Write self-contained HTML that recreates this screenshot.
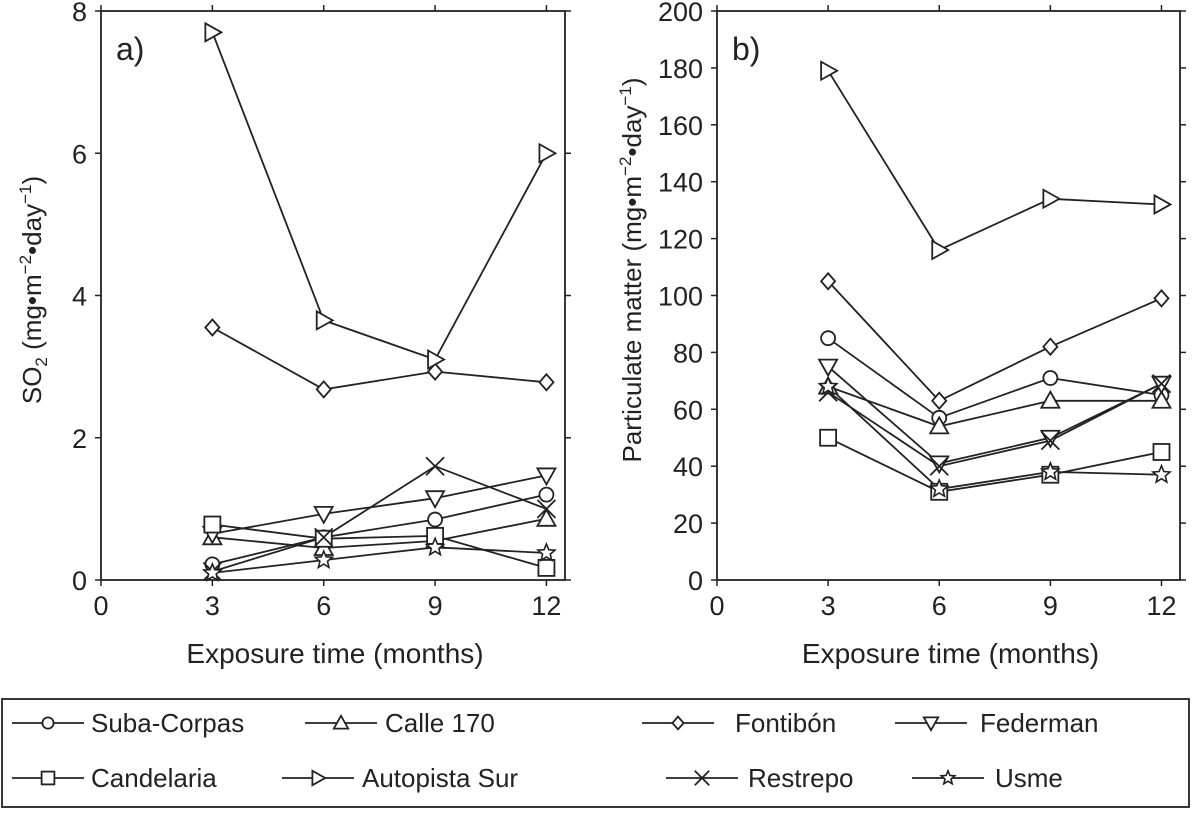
<!DOCTYPE html>
<html><head><meta charset="utf-8"><style>
body{margin:0;background:#fff;}
svg text{font-family:"Liberation Sans",Arial,sans-serif;fill:#222;}
</style></head><body>
<svg id="chart" width="1196" height="810" viewBox="0 0 1196 810" xmlns="http://www.w3.org/2000/svg">
<g id="panels"></g>
<g id="legend"></g>
</svg>
<script>
const months = [3, 6, 9, 12];
const seriesNames = ["Suba-Corpas","Calle 170","Fontibón","Federman","Candelaria","Autopista Sur","Restrepo","Usme"];
const markers = ["circle","triangle","diamond","tridown","square","triright","cross","star"];
const so2Suba = [0.22, 0.6, 0.85, 1.2];
const so2Calle = [0.6, 0.45, 0.55, 0.86];
const so2Fontibon = [3.55, 2.68, 2.93, 2.78];
const so2Federman = [0.65, 0.93, 1.15, 1.47];
const so2Candelaria = [0.78, 0.58, 0.62, 0.17];
const so2Autopista = [7.7, 3.65, 3.1, 6.0];
const so2Restrepo = [0.12, 0.6, 1.6, 1.0];
const so2Usme = [0.1, 0.28, 0.46, 0.38];
const pmSuba = [85, 57, 71, 65];
const pmCalle = [68, 54, 63, 63];
const pmFontibon = [105, 63, 82, 99];
const pmFederman = [75, 41, 50, 69];
const pmCandelaria = [50, 31, 37, 45];
const pmAutopista = [179, 116, 134, 132];
const pmRestrepo = [66, 40, 49, 69];
const pmUsme = [68, 32, 38, 37];
const xTicks = [0, 3, 6, 9, 12];
const so2Ticks = [0, 2, 4, 6, 8];
const pmTicks = [0, 20, 40, 60, 80, 100, 120, 140, 160, 180, 200];

const NS = "http://www.w3.org/2000/svg";
function el(tag, attrs, parent){const e=document.createElementNS(NS,tag);for(const k in attrs)e.setAttribute(k,attrs[k]);parent.appendChild(e);return e;}
const STROKE = {stroke:"#222","stroke-width":1.8,fill:"none"};

function drawMarker(type, cx, cy, g, k){
  k=k||1; let e;
  const A={fill:"#fff",stroke:"#222","stroke-width":1.8};
  if(type==="circle") e=el("circle",{cx,cy,r:7*k,...A},g);
  else if(type==="square") e=el("rect",{x:cx-8*k,y:cy-8*k,width:16*k,height:16*k,...A},g);
  else if(type==="triangle") e=el("polygon",{points:`${cx},${cy-9*k} ${cx-9*k},${cy+7*k} ${cx+9*k},${cy+7*k}`,...A},g);
  else if(type==="tridown") e=el("polygon",{points:`${cx},${cy+9*k} ${cx-9*k},${cy-7*k} ${cx+9*k},${cy-7*k}`,...A},g);
  else if(type==="triright") e=el("polygon",{points:`${cx+9*k},${cy} ${cx-7*k},${cy-9*k} ${cx-7*k},${cy+9*k}`,...A},g);
  else if(type==="diamond") e=el("polygon",{points:`${cx},${cy-8*k} ${cx+7*k},${cy} ${cx},${cy+8*k} ${cx-7*k},${cy}`,...A},g);
  else if(type==="cross") e=el("path",{d:`M${cx-9*k},${cy-9*k}L${cx+9*k},${cy+9*k}M${cx-9*k},${cy+9*k}L${cx+9*k},${cy-9*k}`,stroke:"#222","stroke-width":1.8},g);
  else if(type==="star"){let p=[];for(let i=0;i<10;i++){const r=(i%2?4:9)*k;const a=-Math.PI/2+i*Math.PI/5;p.push((cx+r*Math.cos(a)).toFixed(1)+","+(cy+r*Math.sin(a)).toFixed(1));}
    e=el("polygon",{points:p.join(" "),fill:"#fff",stroke:"#222","stroke-width":1.6},g);}
  return e;
}

function panel(cfg){
  const g=el("g",{},document.getElementById("panels"));
  
  
  const L=cfg.left, R=cfg.right, T=11, B=580;
  const xs=v=>L+(v/12.5)*(R-L);
  const ys=v=>B-(v/cfg.ymax)*(B-T);
  const frame=el("rect",{x:L,y:T,width:R-L,height:B-T,...STROKE},g);
  
  
  xTicks.forEach(t=>{
    const x=xs(t);
    el("line",{x1:x,y1:B,x2:x,y2:B+6,stroke:"#222","stroke-width":1.5},g);
    el("line",{x1:x,y1:T,x2:x,y2:T-6,stroke:"#222","stroke-width":1.5},g);
    const tx=el("text",{x:x,y:B+35,"text-anchor":"middle","font-size":27},g);tx.textContent=t;
    
    
  });
  cfg.yticks.forEach(t=>{
    const y=ys(t);
    el("line",{x1:L,y1:y,x2:L-6,y2:y,stroke:"#222","stroke-width":1.5},g);
    el("line",{x1:R,y1:y,x2:R+6,y2:y,stroke:"#222","stroke-width":1.5},g);
    const tx=el("text",{x:L-14,y:y+10,"text-anchor":"end","font-size":27},g);tx.textContent=t;
    
    
  });
  const xt=el("text",{x:(L+R)/2+2,y:663,"text-anchor":"middle","font-size":28},g);xt.textContent="Exposure time (months)";
  
  
  const yt=el("text",{x:0,y:0,"text-anchor":"middle","font-size":26,transform:`translate(${cfg.ytx},${cfg.yty}) rotate(-90)`},g);
  yt.innerHTML=cfg.ytitle;
  
  
  const pl=el("text",{x:L+15,y:60,"font-size":32},g);pl.textContent=cfg.label;
  
  
  cfg.data.forEach((vals,i)=>{
    const sg=el("g",{},g);
    
    
    const pts=vals.map((v,j)=>xs(months[j]).toFixed(1)+","+ys(v).toFixed(1)).join(" ");
    el("polyline",{points:pts,...STROKE},sg);
  });
  cfg.data.forEach((vals,i)=>{
    vals.forEach((v,j)=>{
      const m=drawMarker(markers[i],xs(months[j]),ys(v),g);
      
      
    });
  });
}
panel({name:"panel-so2",left:101,right:565,ymax:8,yticks:so2Ticks,label:"a)",ytx:41,yty:290,
  ytitle:'SO<tspan dy="6" font-size="17">2</tspan><tspan dy="-6"> (mg•m</tspan><tspan dy="-10" font-size="17">−2</tspan><tspan dy="10">•day</tspan><tspan dy="-10" font-size="17">−1</tspan><tspan dy="10">)</tspan>',
  data:[so2Suba,so2Calle,so2Fontibon,so2Federman,so2Candelaria,so2Autopista,so2Restrepo,so2Usme]});
panel({name:"panel-pm",left:717,right:1180,ymax:200,yticks:pmTicks,label:"b)",ytx:641,yty:270,
  ytitle:'Particulate matter (mg•m<tspan dy="-10" font-size="17">−2</tspan><tspan dy="10">•day</tspan><tspan dy="-10" font-size="17">−1</tspan><tspan dy="10">)</tspan>',
  data:[pmSuba,pmCalle,pmFontibon,pmFederman,pmCandelaria,pmAutopista,pmRestrepo,pmUsme]});

// legend
const lg=document.getElementById("legend");
el("rect",{x:2,y:699,width:1187,height:108,stroke:"#222","stroke-width":1.8,fill:"#fff"},lg);
const legPos=[[12,91,723],[305,385,723],[642,735,723],[895,980,723],[12,91,778],[282,362,778],[666,748,778],[912,995,778]];
legPos.forEach((p,i)=>{
  const eg=el("g",{},lg);
  
  
  el("line",{x1:p[0],y1:p[2],x2:p[0]+72,y2:p[2],stroke:"#222","stroke-width":1.8},eg);
  drawMarker(markers[i],p[0]+36,p[2],eg,0.8);
  const t=el("text",{x:p[1],y:p[2]+9,"font-size":26},eg);t.textContent=seriesNames[i];
});
</script>
</body></html>
